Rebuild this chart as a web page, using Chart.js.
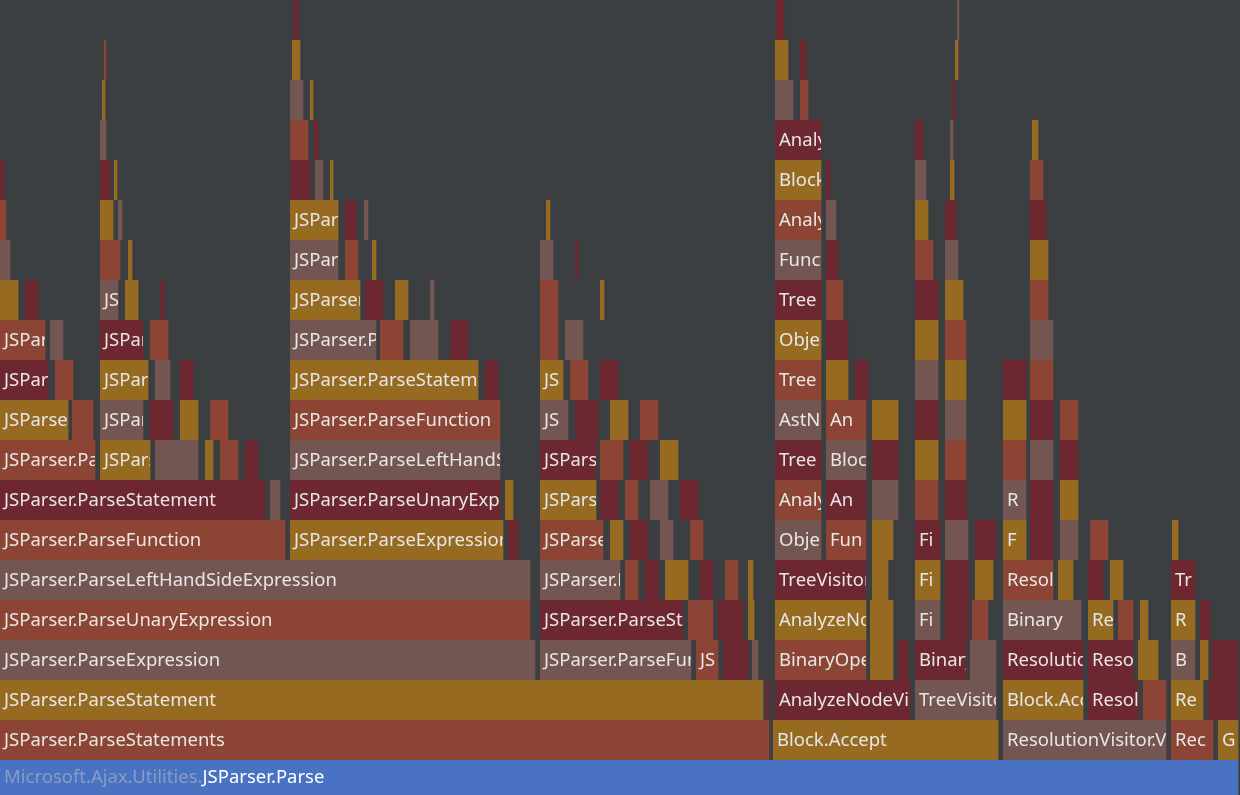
<!DOCTYPE html>
<html>
<head>
<meta charset="utf-8">
<script src="https://cdn.jsdelivr.net/npm/chart.js@4/dist/chart.umd.min.js"></script>
<style>
  html, body { margin: 0; padding: 0; background: #3c3f41; overflow: hidden; }
  canvas { display: block; }
</style>
</head>
<body>
<canvas id="flame" width="1240" height="800"></canvas>
<script>
// flame graph frames: [start, end, colour, label] per stack depth
var level0 = [[0, 1240, 'blue', 'Microsoft.Ajax.Utilities.JSParser.Parse']];
var level1 = [[0, 771, 'r', 'JSParser.ParseStatements'], [773, 1000, 'g', 'Block.Accept'], [1003, 1168, 'b', 'ResolutionVisitor.Visit'], [1171, 1215, 'r', 'Rec'], [1218, 1240, 'g', 'G']];
var level2 = [[0, 765, 'g', 'JSParser.ParseStatement'], [766, 771, 'm', ''], [775, 912, 'm', 'AnalyzeNodeVisitor'], [915, 998, 'b', 'TreeVisitor'], [1003, 1085, 'g', 'Block.Accept'], [1088, 1140, 'm', 'Resolution'], [1143, 1168, 'r', ''], [1171, 1205, 'g', 'Re'], [1208, 1240, 'm', '']];
var level3 = [[0, 537, 'b', 'JSParser.ParseExpression'], [540, 693, 'b', 'JSParser.ParseFunction'], [696, 720, 'r', 'JS'], [723, 750, 'm', ''], [752, 760, 'b', ''], [775, 868, 'r', 'BinaryOperator'], [870, 895, 'g', ''], [898, 910, 'm', ''], [915, 968, 'm', 'Binary'], [970, 998, 'b', ''], [1003, 1085, 'm', 'ResolutionVisitor'], [1088, 1135, 'm', 'Resolution'], [1138, 1160, 'g', ''], [1171, 1197, 'b', 'B'], [1200, 1210, 'g', ''], [1212, 1240, 'm', '']];
var level4 = [[0, 532, 'r', 'JSParser.ParseUnaryExpression'], [540, 685, 'm', 'JSParser.ParseStatement'], [688, 715, 'r', ''], [718, 745, 'm', ''], [748, 756, 'g', ''], [775, 868, 'g', 'AnalyzeNode'], [870, 895, 'g', ''], [915, 942, 'b', 'Fi'], [945, 970, 'm', ''], [972, 990, 'r', ''], [1003, 1083, 'b', 'Binary'], [1088, 1115, 'g', 'Re'], [1118, 1135, 'r', ''], [1140, 1150, 'g', ''], [1171, 1197, 'g', 'R'], [1200, 1212, 'm', '']];
var level5 = [[0, 532, 'b', 'JSParser.ParseLeftHandSideExpression'], [540, 622, 'b', 'JSParser.Parse'], [625, 640, 'r', ''], [645, 660, 'm', ''], [665, 690, 'g', ''], [700, 715, 'm', ''], [725, 740, 'r', ''], [748, 755, 'g', ''], [775, 868, 'm', 'TreeVisitor'], [872, 890, 'g', ''], [915, 942, 'g', 'Fi'], [945, 970, 'm', ''], [975, 995, 'g', ''], [1003, 1055, 'r', 'Resolution'], [1058, 1075, 'g', ''], [1088, 1105, 'm', ''], [1110, 1125, 'g', ''], [1171, 1197, 'm', 'Tr']];
var level6 = [[0, 287, 'r', 'JSParser.ParseFunction'], [290, 505, 'g', 'JSParser.ParseExpression'], [508, 520, 'm', ''], [540, 605, 'r', 'JSParser'], [610, 625, 'g', ''], [630, 650, 'm', ''], [660, 675, 'b', ''], [690, 705, 'r', ''], [775, 823, 'b', 'Object'], [826, 868, 'r', 'Fun'], [872, 895, 'g', ''], [915, 942, 'm', 'Fi'], [945, 970, 'b', ''], [975, 998, 'm', ''], [1003, 1028, 'g', 'F'], [1030, 1055, 'm', ''], [1060, 1080, 'b', ''], [1090, 1110, 'r', ''], [1172, 1180, 'g', '']];
var level7 = [[0, 267, 'm', 'JSParser.ParseStatement'], [270, 282, 'b', ''], [290, 502, 'm', 'JSParser.ParseUnaryExpression'], [505, 515, 'g', ''], [540, 598, 'g', 'JSParser'], [600, 620, 'm', ''], [625, 640, 'r', ''], [650, 670, 'b', ''], [680, 700, 'm', ''], [775, 823, 'r', 'Analyze'], [826, 868, 'm', 'An'], [872, 900, 'b', ''], [915, 940, 'r', ''], [945, 968, 'm', ''], [1003, 1028, 'b', 'R'], [1030, 1055, 'm', ''], [1060, 1080, 'g', '']];
var level8 = [[0, 97, 'r', 'JSParser.ParseStatement'], [100, 152, 'g', 'JSParser'], [155, 200, 'b', ''], [205, 215, 'g', ''], [220, 240, 'r', ''], [245, 260, 'm', ''], [290, 502, 'b', 'JSParser.ParseLeftHandSide'], [540, 598, 'm', 'JSParser'], [600, 625, 'r', ''], [630, 650, 'm', ''], [660, 680, 'g', ''], [775, 823, 'm', 'Tree'], [826, 868, 'b', 'Block'], [872, 900, 'm', ''], [915, 940, 'g', ''], [945, 968, 'r', ''], [1003, 1028, 'r', ''], [1030, 1055, 'b', ''], [1060, 1080, 'm', '']];
var level9 = [[0, 70, 'g', 'JSParser'], [72, 95, 'r', ''], [100, 145, 'b', 'JSParser'], [150, 175, 'm', ''], [180, 200, 'g', ''], [210, 230, 'r', ''], [290, 502, 'r', 'JSParser.ParseFunction'], [540, 570, 'b', 'JS'], [575, 600, 'm', ''], [610, 630, 'g', ''], [640, 660, 'r', ''], [775, 823, 'b', 'AstNode'], [826, 868, 'r', 'An'], [872, 900, 'g', ''], [915, 940, 'm', ''], [945, 968, 'b', ''], [1003, 1028, 'g', ''], [1030, 1055, 'm', ''], [1060, 1080, 'r', '']];
var level10 = [[0, 50, 'm', 'JSParser'], [55, 75, 'r', ''], [100, 150, 'g', 'JSParser'], [155, 172, 'b', ''], [180, 195, 'm', ''], [290, 480, 'g', 'JSParser.ParseStatement'], [485, 500, 'm', ''], [540, 565, 'g', 'JS'], [570, 590, 'r', ''], [600, 620, 'm', ''], [775, 823, 'r', 'Tree'], [826, 850, 'g', ''], [855, 870, 'm', ''], [915, 940, 'b', ''], [945, 968, 'g', ''], [1003, 1028, 'm', ''], [1030, 1055, 'r', '']];
var level11 = [[0, 47, 'r', 'JSParser'], [50, 65, 'b', ''], [100, 145, 'm', 'JSParser'], [150, 170, 'r', ''], [290, 378, 'b', 'JSParser.Parse'], [380, 405, 'r', ''], [410, 440, 'b', ''], [450, 470, 'm', ''], [540, 560, 'r', ''], [565, 585, 'b', ''], [775, 823, 'g', 'Object'], [826, 850, 'm', ''], [915, 940, 'g', ''], [945, 968, 'r', ''], [1030, 1055, 'b', '']];
var level12 = [[0, 20, 'g', ''], [25, 40, 'm', ''], [100, 120, 'b', 'JS'], [125, 140, 'g', ''], [160, 166, 'm', ''], [290, 362, 'g', 'JSParser'], [365, 385, 'm', ''], [395, 410, 'g', ''], [430, 436, 'b', ''], [540, 560, 'r', ''], [600, 606, 'g', ''], [775, 823, 'm', 'Tree'], [826, 845, 'r', ''], [915, 940, 'm', ''], [945, 965, 'g', ''], [1030, 1050, 'r', '']];
var level13 = [[0, 12, 'b', ''], [100, 122, 'r', ''], [128, 134, 'g', ''], [290, 340, 'b', 'JSParser'], [345, 360, 'r', ''], [372, 378, 'g', ''], [540, 555, 'b', ''], [575, 580, 'm', ''], [775, 823, 'b', 'Function'], [826, 840, 'm', ''], [915, 935, 'r', ''], [945, 960, 'b', ''], [1030, 1050, 'g', '']];
var level14 = [[0, 8, 'r', ''], [100, 115, 'g', ''], [118, 124, 'b', ''], [290, 340, 'g', 'JSParser'], [345, 358, 'm', ''], [364, 370, 'b', ''], [546, 552, 'g', ''], [775, 823, 'r', 'Analyze'], [826, 838, 'b', ''], [915, 930, 'g', ''], [945, 958, 'm', ''], [1030, 1048, 'm', '']];
var level15 = [[0, 6, 'm', ''], [100, 112, 'm', ''], [114, 119, 'g', ''], [290, 312, 'm', ''], [315, 325, 'b', ''], [330, 335, 'g', ''], [775, 823, 'g', 'Block'], [826, 832, 'm', ''], [915, 928, 'b', ''], [950, 956, 'g', ''], [1030, 1045, 'r', '']];
var level16 = [[100, 108, 'b', ''], [290, 310, 'r', ''], [314, 320, 'm', ''], [775, 823, 'm', 'Analyze'], [915, 925, 'm', ''], [950, 955, 'b', ''], [1032, 1040, 'g', '']];
var level17 = [[102, 107, 'g', ''], [290, 305, 'b', ''], [310, 315, 'g', ''], [775, 795, 'b', ''], [800, 810, 'r', ''], [952, 957, 'm', '']];
var level18 = [[104, 108, 'r', ''], [292, 302, 'g', ''], [775, 790, 'g', ''], [800, 808, 'm', ''], [955, 960, 'g', '']];
var level19 = [[293, 300, 'm', ''], [776, 786, 'm', ''], [957, 961, 'b', '']];

var levels = [level0, level1, level2, level3, level4, level5, level6, level7, level8, level9,
  level10, level11, level12, level13, level14, level15, level16, level17, level18, level19];

var palette = { blue: '#4a72c2', r: '#8c4535', g: '#966a21', m: '#6c2730', b: '#735652' };

var points = [], colours = [], labels = [];
levels.forEach(function (frames, i) {
  frames.forEach(function (f) {
    points.push({ x: [f[0], f[1]], y: 'L' + i });
    colours.push(palette[f[2]]);
    labels.push(f[3]);
  });
});

var frameText = {
  id: 'frameText',
  afterDatasetsDraw: function (chart) {
    var c = chart.ctx;
    var meta = chart.getDatasetMeta(0);
    c.save();
    c.font = '18.5px "Noto Sans", "Open Sans", sans-serif';
    c.textBaseline = 'middle';
    meta.data.forEach(function (bar, i) {
      var txt = labels[i];
      if (!txt) return;
      var p = bar.getProps(['x', 'y', 'base', 'height'], true);
      var left = Math.min(p.x, p.base), right = Math.max(p.x, p.base);
      c.save();
      c.beginPath();
      c.rect(left, p.y - p.height / 2, right - left - 2, p.height);
      c.clip();
      if (i === 0) {
        var pre = 'Microsoft.Ajax.Utilities.';
        c.fillStyle = '#8a9cc0';
        c.fillText(pre, left + 4, p.y - 2);
        c.fillStyle = '#ffffff';
        c.fillText(txt.slice(pre.length), left + 4 + c.measureText(pre).width, p.y - 2);
      } else {
        c.fillStyle = '#e6e6e6';
        c.fillText(txt, left + 4, p.y + 1);
      }
      c.restore();
    });
    c.restore();
  }
};

var levelNames = levels.map(function (_, i) { return 'L' + i; });

new Chart(document.getElementById('flame'), {
  type: 'bar',
  data: {
    labels: levelNames,
    datasets: [{
      data: points,
      backgroundColor: colours,
      borderColor: '#3c3f41',
      borderWidth: { right: 2, top: 0, bottom: 0, left: 0 },
      borderSkipped: false,
      barPercentage: 1,
      categoryPercentage: 1,
      grouped: false
    }]
  },
  options: {
    indexAxis: 'y',
    responsive: false,
    devicePixelRatio: 1,
    animation: false,
    layout: { padding: 0 },
    scales: {
      x: { type: 'linear', min: 0, max: 1240, display: false },
      y: { reverse: true, display: false }
    },
    plugins: { legend: { display: false }, tooltip: { enabled: false } }
  },
  plugins: [frameText]
});
</script>
</body>
</html>
